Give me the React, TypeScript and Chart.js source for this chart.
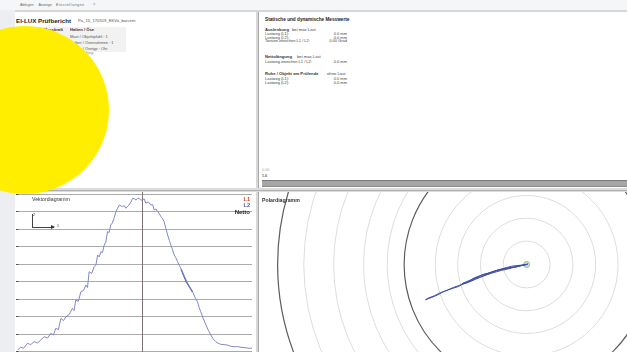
import React, { useEffect, useRef } from "react";
import { Chart, registerables } from "chart.js";

Chart.register(...registerables);

// ---------- DATA ----------
const menuItems = ["Ablegen", "Anzeige", "Einstellungen", "?"];

// Vector diagram (x: position, y: force level)
const vectorX = [
  -52.6, -51.5, -50.2, -48.5, -47.2, -45.7, -44.3, -42.8, -41.4, -40.0, -38.6, -37.5, -36.5, -35.4,
  -34.3, -33.2, -32.2, -30.8, -29.4, -28.7, -28.0, -26.9, -25.8, -24.7, -23.7, -23.0, -22.3, -21.2,
  -20.2, -19.4, -18.7, -18.0, -17.3, -16.6, -15.9, -15.2, -14.5, -13.8, -13.1, -12.4, -11.7, -10.9,
  -10.2, -9.5, -8.8, -8.1, -7.4, -6.7, -6.0, -5.3, -4.5, -3.8, -3.1, -2.4, -1.7, -1.0, -0.3, 0.4,
  1.1, 1.8, 2.9, 4.0, 4.7, 5.4, 6.1, 6.8, 7.5, 8.2, 8.9, 9.6, 10.3, 11.1, 11.8, 12.5, 13.2, 13.9,
  14.6, 15.3, 16.3, 17.4, 18.5, 19.6, 20.6, 21.7, 22.7, 23.8, 24.5, 25.2, 26.3, 27.4, 28.4, 29.5,
  30.5, 31.6, 32.6, 33.7, 35.1, 36.5, 37.9, 39.4, 40.8, 42.3, 44.0, 45.8, 47.0,
];
const vectorY = [
  0.12, 0.28, 0.22, 0.5, 0.42, 0.59, 0.52, 0.7, 0.88, 0.8, 1.07, 0.98, 1.36, 1.28,
  1.93, 1.8, 2.02, 2.15, 2.5, 2.38, 2.98, 2.9, 3.46, 3.52, 3.84, 3.7, 4.6, 4.5,
  4.89, 5.0, 5.56, 5.45, 5.75, 5.7, 6.13, 6.3, 6.9, 6.85, 7.28, 7.4, 7.67, 8.05,
  8.24, 8.43, 8.38, 8.33, 8.4, 8.24, 8.35, 8.43, 8.6, 8.81, 8.78, 8.72, 8.8, 8.81, 8.7, 8.72,
  8.78, 8.53, 8.6, 8.43, 8.45, 8.14, 8.2, 8.05, 7.95, 7.76, 7.65, 7.47, 7.1, 6.71, 6.4, 6.13, 5.85, 5.56,
  5.4, 5.18, 4.9, 4.6, 4.25, 3.94, 3.7, 3.46, 3.15, 2.88, 2.55, 2.31, 1.9, 1.55, 1.25, 0.97,
  0.75, 0.59, 0.5, 0.44, 0.42, 0.4, 0.33, 0.3, 0.31, 0.27, 0.25, 0.21, 0.22,
];
const vectorL2X = [16.8, 17.4, 18.0, 19.0, 19.6, 20.5, 21.7];
const vectorL2Y = [4.75, 4.55, 4.35, 4.05, 3.9, 3.7, 3.45];
const vectorGridValues = [0, 1, 2, 3, 4, 5, 6, 7, 8, 9];
const vectorCenterX = 0;
const vectorXRange = [-53, 47];
const vectorYRange = [0, 9];

// Polar diagram (units; rings at these radii)
const polarX = [
  0, -0.221, -0.417, -0.612, -0.807, -1.003, -1.198, -1.393, -1.589, -1.719, -1.914, -2.109, -2.24,
  -2.37, -2.565, -2.76, -2.956, -3.151, -3.346, -3.542, -3.802, -4.063,
  -3.95, -3.7, -3.45, -3.2, -2.95, -2.7, -2.45, -2.25, -2.05, -1.85, -1.62, -1.4, -1.2, -1.0, -0.8,
  -0.55, -0.3, 0.05,
  -0.4, -0.9, -1.3, -1.8, -2.2, -2.6, -2.3, -1.9, -1.5, -1.1, -0.6, 0.02,
];
const polarY = [
  0, -0.039, -0.091, -0.117, -0.169, -0.208, -0.247, -0.326, -0.378, -0.404, -0.482, -0.56, -0.651,
  -0.755, -0.82, -0.924, -0.99, -1.055, -1.133, -1.25, -1.367, -1.471,
  -1.4, -1.3, -1.17, -1.08, -0.96, -0.87, -0.76, -0.7, -0.58, -0.52, -0.44, -0.36, -0.3, -0.24, -0.2,
  -0.13, -0.06, 0.02,
  -0.1, -0.16, -0.27, -0.45, -0.62, -0.8, -0.72, -0.55, -0.36, -0.22, -0.07, 0.0,
];
const polarLightRings = [0.94, 1.86, 2.77, 3.67, 5.6, 6.55, 7.75, 8.95];
const polarDarkRings = [4.92, 10.0];
const polarXRange = [-10.547, 3.828];
const polarYRange = [-3.4375, 2.8125];

// ---------- PLUGINS ----------
const vectorGridPlugin = {
  id: "vectorGrid",
  beforeDatasetsDraw(chart: any) {
    const { ctx, chartArea, scales } = chart;
    const x = scales.x;
    const y = scales.y;
    ctx.save();
    ctx.lineWidth = 1;
    vectorGridValues.forEach((v) => {
      const py = Math.round(y.getPixelForValue(v)) - 0.5;
      ctx.strokeStyle = "#ababab";
      ctx.beginPath();
      ctx.moveTo(chartArea.left, py);
      ctx.lineTo(chartArea.right, py);
      ctx.stroke();
      ctx.strokeStyle = "#555";
      ctx.beginPath();
      ctx.moveTo(chartArea.left - 1, py);
      ctx.lineTo(chartArea.left + 1.5, py);
      ctx.stroke();
    });
    const px = Math.round(x.getPixelForValue(vectorCenterX)) + 0.5;
    ctx.strokeStyle = "#7d7173";
    ctx.beginPath();
    ctx.moveTo(px, 0);
    ctx.lineTo(px, chart.height);
    ctx.stroke();
    ctx.restore();
  },
};

const polarRingPlugin = {
  id: "polarRings",
  beforeDatasetsDraw(chart: any) {
    const { ctx, scales } = chart;
    const x = scales.x;
    const y = scales.y;
    const cx = x.getPixelForValue(0);
    const cy = y.getPixelForValue(0);
    ctx.save();
    const draw = (r: number, color: string, w: number) => {
      const rp = x.getPixelForValue(r) - cx;
      ctx.strokeStyle = color;
      ctx.lineWidth = w;
      ctx.beginPath();
      ctx.arc(cx, cy, rp, 0, Math.PI * 2);
      ctx.stroke();
    };
    polarLightRings.forEach((r) => draw(r, "#dddddd", 1));
    polarDarkRings.forEach((r) => draw(r, "#5c5c5c", 1.2));
    ctx.restore();
  },
};

// ---------- COMPONENTS ----------
function VectorChart() {
  const ref = useRef<HTMLCanvasElement | null>(null);
  useEffect(() => {
    if (!ref.current) return;
    const chart = new Chart(ref.current, {
      type: "scatter",
      data: {
        datasets: [
          {
            label: "L1",
            data: vectorX.map((x, i) => ({ x, y: vectorY[i] })),
            showLine: true,
            borderColor: "#8087c7",
            borderWidth: 1,
            pointRadius: 0,
          },
          {
            label: "L2",
            data: vectorL2X.map((x, i) => ({ x, y: vectorL2Y[i] })),
            showLine: true,
            borderColor: "#4b53a3",
            borderWidth: 1.3,
            pointRadius: 0,
          },
        ],
      },
      options: {
        animation: false,
        responsive: false,
        maintainAspectRatio: false,
        events: [],
        layout: { padding: { left: 2, right: 4, top: 3, bottom: 0 } },
        plugins: { legend: { display: false }, tooltip: { enabled: false } },
        scales: {
          x: { type: "linear", min: vectorXRange[0], max: vectorXRange[1], display: false },
          y: { type: "linear", min: vectorYRange[0], max: vectorYRange[1], display: false },
        },
      },
      plugins: [vectorGridPlugin],
    } as any);
    return () => chart.destroy();
  }, []);
  return (
    <canvas
      ref={ref}
      width={241}
      height={160}
      style={{ position: "absolute", left: 15, top: 192, width: 241, height: 160 }}
    />
  );
}

function PolarChart() {
  const ref = useRef<HTMLCanvasElement | null>(null);
  useEffect(() => {
    if (!ref.current) return;
    const chart = new Chart(ref.current, {
      type: "scatter",
      data: {
        datasets: [
          {
            label: "Trace",
            data: polarX.map((x, i) => ({ x, y: polarY[i] })),
            showLine: true,
            borderColor: "#3f4ca6",
            borderWidth: 1,
            pointRadius: 0,
          },
          {
            label: "Centre",
            data: [{ x: 0, y: 0 }],
            pointRadius: 3,
            pointBackgroundColor: "rgba(170,205,170,0.6)",
            pointBorderColor: "#9ab59a",
            pointBorderWidth: 1,
          },
        ],
      },
      options: {
        animation: false,
        responsive: false,
        maintainAspectRatio: false,
        events: [],
        layout: { padding: 0 },
        plugins: { legend: { display: false }, tooltip: { enabled: false } },
        scales: {
          x: { type: "linear", min: polarXRange[0], max: polarXRange[1], display: false },
          y: { type: "linear", min: polarYRange[0], max: polarYRange[1], display: false },
        },
      },
      plugins: [polarRingPlugin],
    } as any);
    return () => chart.destroy();
  }, []);
  return (
    <canvas
      ref={ref}
      width={368}
      height={160}
      style={{ position: "absolute", left: 259, top: 192, width: 368, height: 160 }}
    />
  );
}

type TProps = {
  x: number;
  y: number;
  size: number;
  bold?: boolean;
  color?: string;
  right?: boolean;
  spacing?: number;
  children: React.ReactNode;
};
function T({ x, y, size, bold, color, right, spacing, children }: TProps) {
  return (
    <div
      style={{
        position: "absolute",
        left: x,
        top: y - size / 2,
        fontSize: size,
        lineHeight: `${size}px`,
        fontWeight: bold ? 700 : 400,
        color: color || "#333",
        whiteSpace: "nowrap",
        letterSpacing: spacing,
        transform: right ? "translateX(-100%)" : undefined,
      }}
    >
      {children}
    </div>
  );
}

export default function App() {
  const abs = (s: React.CSSProperties): React.CSSProperties => ({ position: "absolute", ...s });
  return (
    <div
      style={{
        position: "fixed",
        left: 0,
        top: 0,
        width: 627,
        height: 352,
        overflow: "hidden",
        background: "#eceef1",
        fontFamily: "'Liberation Sans', Arial, sans-serif",
      }}
    >
      {/* menu bar */}
      <div style={abs({ left: 0, top: 0, width: 627, height: 10, background: "#f5f6f7" })} />
      <div style={abs({ left: 15, top: 10, width: 612, height: 2, background: "#d6d6d6" })} />
      <T x={20} y={6} size={3.7} color="#666">{menuItems[0]}</T>
      <T x={38.5} y={6} size={3.7} color="#666">{menuItems[1]}</T>
      <T x={56} y={6} size={3.7} color="#666" spacing={0.5}>{menuItems[2]}</T>
      <T x={93} y={6} size={3.7} color="#666">{menuItems[3]}</T>

      {/* top-left panel */}
      <div style={abs({ left: 15, top: 12, width: 241, height: 176, background: "#fff" })} />
      <T x={16} y={21} size={6.2} bold color="#222">El-LUX Prüfbericht</T>
      <T x={78} y={21.5} size={4.2} color="#555">Pa_15_170519_EKVa_barcem</T>
      <div style={abs({ left: 38, top: 27, width: 88, height: 25, background: "#f2f2f2" })} />
      <T x={63} y={30.5} size={4.2} bold color="#333" right>Messkraft</T>
      <T x={70} y={30.5} size={4.2} bold color="#333">Halten / Öse</T>
      <T x={63} y={37} size={4} color="#555" right>Typ</T>
      <T x={70} y={37} size={4} color="#555">Mast / Objektpfahl :  1</T>
      <T x={63} y={43} size={4} color="#555" right>Anzahl</T>
      <T x={70} y={43} size={4} color="#555">Halten / Ösenrahmen :  1</T>
      <T x={63} y={48.7} size={4} color="#555" right>Länge</T>
      <T x={70} y={48.7} size={4} color="#555">Halten / Ösetyp :  Ohr</T>
      <T x={80} y={53.5} size={3.8} color="#888">Prüfung</T>
      <T x={88} y={63} size={3.8} color="#999">0.0</T>

      {/* vertical divider */}
      <div style={abs({ left: 256, top: 12, width: 3, height: 340, background: "#d8d8d8" })} />
      <div style={abs({ left: 258, top: 12, width: 1, height: 340, background: "#a8a8a8" })} />

      {/* top-right panel */}
      <div style={abs({ left: 259, top: 12, width: 368, height: 176, background: "#fff" })} />
      <T x={265} y={20.7} size={4.7} bold color="#222">Statische und dynamische Messwerte</T>
      <T x={265} y={30} size={4.2} bold color="#333">Auslenkung</T>
      <T x={292} y={30} size={4.2} color="#444">bei max Last</T>
      <T x={265} y={33.8} size={4} color="#444">Lastweg (L1):</T>
      <T x={347} y={33.8} size={4} color="#444" right>0.0 mm</T>
      <T x={265} y={37.6} size={4} color="#444">Lastweg (L2):</T>
      <T x={347} y={37.6} size={4} color="#444" right>0.0 mm</T>
      <T x={265} y={41.4} size={4} color="#444">Torsion zwischen L1 / L2:</T>
      <T x={347} y={41.4} size={4} color="#444" right>0.00 Grad</T>
      <T x={265} y={57.3} size={4.2} bold color="#333">Nettolängung</T>
      <T x={297} y={57.3} size={4.2} color="#444">bei max Last</T>
      <T x={265} y={62} size={4} color="#444">Lastweg zwischen L1 / L2:</T>
      <T x={347} y={62} size={4} color="#444" right>0.0 mm</T>
      <T x={265} y={74} size={4.2} bold color="#333">Ruhe / Objekt am Prüfende</T>
      <T x={327} y={74} size={4.2} color="#444">ohne Last</T>
      <T x={265} y={79} size={4} color="#444">Lastweg (L1):</T>
      <T x={347} y={79} size={4} color="#444" right>0.0 mm</T>
      <T x={265} y={83.3} size={4} color="#444">Lastweg (L2):</T>
      <T x={347} y={83.3} size={4} color="#444" right>0.0 mm</T>
      <T x={262} y={171} size={3.8} color="#aaa">0.00</T>
      <T x={262} y={176.5} size={3.6} bold color="#555">1.0</T>
      <div style={abs({ left: 262, top: 180, width: 365, height: 7, background: "#a6a6a6", borderTop: "1px solid #7a7a7a", borderBottom: "1px solid #8a8a8a", boxSizing: "border-box" })} />

      {/* horizontal divider */}
      <div style={abs({ left: 15, top: 188, width: 612, height: 4, background: "#dcdcdc" })} />
      <div style={abs({ left: 15, top: 190, width: 612, height: 1, background: "#b0b0b0" })} />

      {/* bottom-left panel: vector diagram */}
      <div style={abs({ left: 15, top: 192, width: 241, height: 160, background: "#fff" })} />
      <VectorChart />
      <T x={32} y={200} size={5.2} color="#333">Vektordiagramm</T>
      <div style={abs({ left: 31.5, top: 214, width: 1, height: 13, background: "#444" })} />
      <div style={abs({ left: 31.5, top: 226.5, width: 22, height: 1, background: "#444" })} />
      <div style={abs({ left: 51, top: 225, width: 0, height: 0, borderTop: "2px solid transparent", borderBottom: "2px solid transparent", borderLeft: "4px solid #333" })} />
      <T x={33} y={216} size={3.6} color="#333">2</T>
      <T x={57} y={227} size={3.6} color="#333">1</T>
      <T x={250} y={200} size={5.6} bold color="#d0452f" right>L1</T>
      <T x={250} y={206} size={5.6} bold color="#4a58b4" right>L2</T>
      <T x={250} y={212} size={6} bold color="#222" right>Netto</T>

      {/* bottom-right panel: polar diagram */}
      <div style={abs({ left: 259, top: 192, width: 368, height: 160, background: "#fff" })} />
      <PolarChart />
      <T x={262} y={200.5} size={5.2} bold color="#333">Polardiagramm</T>

      {/* yellow circle */}
      <div
        style={abs({
          left: 25 - 84,
          top: 110 - 84,
          width: 168,
          height: 168,
          borderRadius: "50%",
          background: "#ffee00",
          zIndex: 10,
        })}
      />
    </div>
  );
}
